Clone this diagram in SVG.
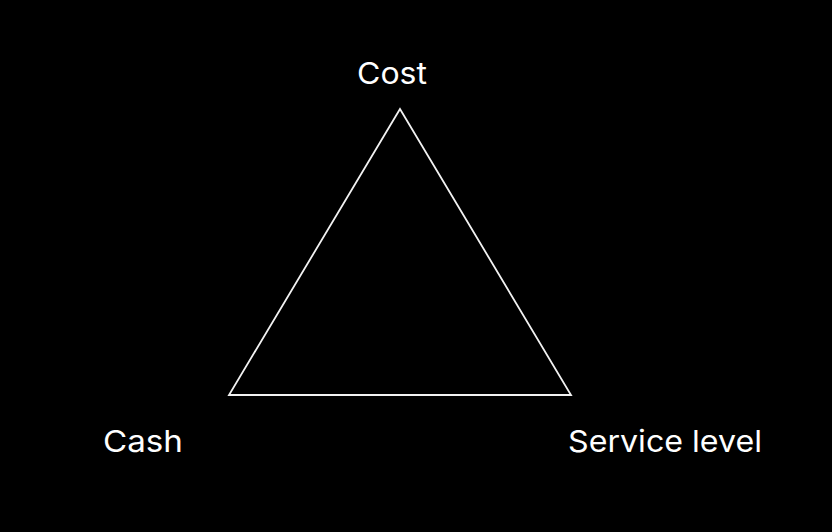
<svg xmlns="http://www.w3.org/2000/svg" width="832" height="532" viewBox="0 0 832 532">
<style>
.lbl{font-family:"Inter","Liberation Sans",sans-serif;font-size:30px;fill:#ffffff;}
.edge{fill:none;stroke:#f2f2f2;stroke-width:1.8;stroke-linejoin:miter;}
</style>
<rect x="0" y="0" width="832" height="532" fill="#000000"/>
<g id="connectors">
<polygon class="edge" points="400,109 229,395 571,395"/>
</g>
<g id="node-cost"><text class="lbl" x="357" y="84" textLength="70" lengthAdjust="spacingAndGlyphs">Cost</text></g>
<g id="node-cash"><text class="lbl" x="103" y="452" textLength="80" lengthAdjust="spacingAndGlyphs">Cash</text></g>
<g id="node-service"><text class="lbl" x="568" y="452" textLength="194" lengthAdjust="spacingAndGlyphs">Service level</text></g>
</svg>
